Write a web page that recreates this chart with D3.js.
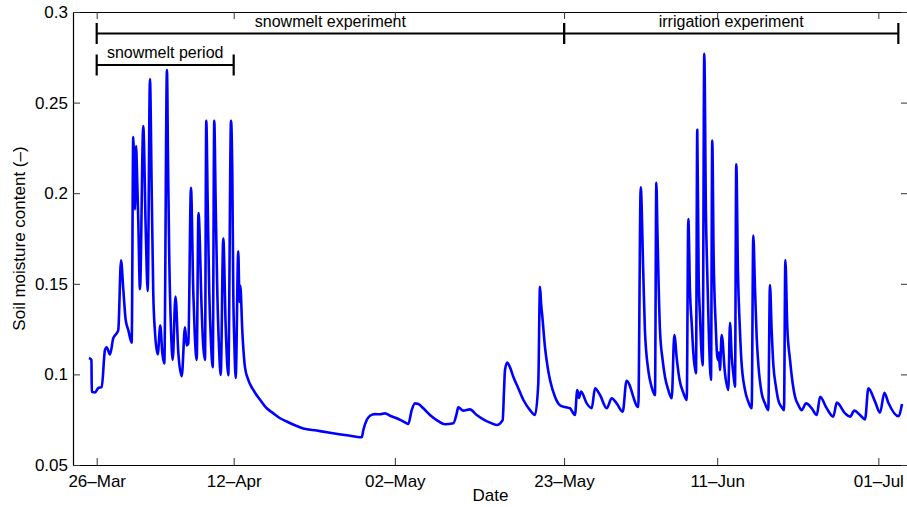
<!DOCTYPE html>
<html><head><meta charset="utf-8">
<script src="https://cdn.jsdelivr.net/npm/d3@7"></script>
<style>
html,body{margin:0;padding:0;background:#fff;}
svg{display:block;font-family:"Liberation Sans",Arial,Helvetica,sans-serif;}
</style></head>
<body>
<svg id="chart" width="907" height="507"></svg>
<script>
// Time in days since 26-Mar (00:00)
const days = [
 -0.96,-0.65,-0.61,-0.21,0.20,0.62,1.03,1.24,1.65,2.06,
 2.48,2.68,3.02,3.30,3.60,3.92,4.34,4.54,4.75,4.88,
 5.04,5.16,5.37,5.78,6.08,6.33,6.61,6.83,7.02,7.24,
 7.57,7.89,8.14,8.39,8.72,8.85,9.01,9.22,9.43,9.78,
 10.13,10.55,10.96,11.17,11.37,11.70,11.99,12.17,12.41,12.63,
 13.03,13.19,13.44,13.60,13.77,13.97,14.18,14.40,14.59,14.76,
 14.97,15.18,15.39,15.71,16.01,16.33,16.67,16.83,16.95,17.08,
 17.25,17.57,17.72,17.82,18.07,18.40,18.81,19.43,20.27,21.10,
 21.92,22.75,23.58,24.82,25.64,27.30,28.95,31.03,32.89,33.09,
 33.51,33.92,34.54,35.16,35.78,36.40,37.23,38.05,38.67,39.09,
 39.50,39.91,40.53,41.36,42.19,43.22,44.25,44.68,44.87,45.49,
 46.32,47.16,47.98,48.81,49.64,50.38,50.55,50.67,50.95,51.28,
 51.70,52.32,52.94,53.77,54.39,54.80,55.01,55.15,55.30,55.63,
 55.96,56.25,56.87,57.49,58.11,58.73,59.35,59.64,59.85,60.10,
 60.81,61.43,61.84,62.46,63.29,63.91,64.53,65.28,65.75,67.21,
 67.51,67.83,68.03,68.45,68.87,69.28,69.45,69.58,69.70,69.90,
 70.23,70.52,70.93,71.36,71.68,72.00,72.33,72.82,73.22,73.42,
 73.63,73.84,74.04,74.37,74.53,74.70,74.87,75.08,75.20,75.40,
 75.60,75.77,75.98,76.23,76.39,76.56,76.81,77.06,77.22,77.34,
 77.56,77.97,78.38,78.59,78.80,79.00,79.21,79.37,79.58,79.79,
 80.00,80.45,80.86,81.28,81.48,81.69,81.90,82.10,82.52,82.93,
 83.34,83.55,83.76,83.96,84.30,84.58,84.99,85.29,85.46,85.70,
 86.04,86.37,86.66,87.07,87.49,88.03,88.74,89.36,89.77,90.59,
 91.41,91.84,92.87,93.49,94.02,94.73,95.35,95.76,96.59,97.21,
 97.75,98.24,99.48,99.94
];
const moisture = [
 0.109,0.108,0.0905,0.090,0.0925,0.093,0.1135,0.115,0.111,0.120,
 0.1227,0.1245,0.163,0.147,0.130,0.1245,0.1175,0.231,0.191,0.226,
 0.205,0.185,0.147,0.237,0.181,0.146,0.263,0.200,0.145,0.123,
 0.111,0.127,0.112,0.106,0.268,0.218,0.163,0.125,0.108,0.143,
 0.112,0.099,0.126,0.116,0.117,0.203,0.145,0.122,0.108,0.189,
 0.1355,0.118,0.108,0.240,0.196,0.145,0.118,0.104,0.240,0.196,
 0.145,0.115,0.0997,0.175,0.126,0.0995,0.240,0.211,0.145,0.118,
 0.098,0.168,0.140,0.149,0.124,0.104,0.097,0.0914,0.086,0.0813,
 0.0785,0.0758,0.074,0.0715,0.0702,0.069,0.0678,0.0664,0.0653,0.0693,
 0.0748,0.0772,0.0781,0.078,0.0785,0.0772,0.0758,0.074,0.0727,0.0803,
 0.084,0.0837,0.0813,0.0776,0.0748,0.0725,0.073,0.0785,0.0818,0.080,
 0.0807,0.0776,0.0752,0.0734,0.0721,0.0748,0.0914,0.1024,0.1065,0.104,
 0.0987,0.0923,0.086,0.0803,0.0776,0.095,0.1484,0.139,0.132,0.115,
 0.104,0.097,0.0877,0.083,0.082,0.0813,0.0776,0.0914,0.087,0.0905,
 0.084,0.0813,0.0923,0.0886,0.0813,0.0868,0.084,0.0794,0.0965,0.082,
 0.2033,0.1558,0.1245,0.1024,0.093,0.0886,0.2058,0.18,0.156,0.1245,
 0.108,0.0987,0.0914,0.0868,0.1217,0.108,0.097,0.0896,0.0859,0.1858,
 0.145,0.128,0.112,0.1006,0.235,0.154,0.132,0.110,0.105,0.277,
 0.19,0.1558,0.12,0.097,0.229,0.165,0.128,0.108,0.112,0.1024,
 0.1217,0.1006,0.0914,0.1285,0.110,0.1006,0.0932,0.216,0.156,0.128,
 0.108,0.0914,0.085,0.0813,0.1766,0.148,0.1208,0.106,0.0896,0.084,
 0.0803,0.1493,0.1245,0.106,0.093,0.0859,0.082,0.0803,0.1631,0.126,
 0.108,0.095,0.0877,0.0831,0.0803,0.084,0.0813,0.0776,0.0877,0.0813,
 0.0767,0.0844,0.0785,0.0767,0.080,0.0776,0.0752,0.0923,0.085,0.0789,
 0.0899,0.0844,0.077,0.0837
];
const xTickDays = [0, 17, 37, 58, 77, 97];
const xTickLabels = ["26\u2013Mar","12\u2013Apr","02\u2013May","23\u2013May","11\u2013Jun","01\u2013Jul"];
const yTicks = [0.05, 0.1, 0.15, 0.2, 0.25, 0.3];
const yTickLabels = ["0.05","0.1","0.15","0.2","0.25","0.3"];
const bracketLabels = ["snowmelt experiment","irrigation experiment","snowmelt period"];
const bracketStart = [0, 58, 0];
const bracketEnd = [58, 99.48, 17];
const bracketLevel = [0, 0, 1];

const baseMs = Date.UTC(2013, 2, 26);
const toDate = d => new Date(baseMs + d * 864e5);

const L = 73, R = 908, T = 12, B = 465;
const svg = d3.select("#chart");
const x = d3.scaleUtc().domain([toDate(-2.94), toDate(100.68)]).range([L, R]);
const y = d3.scaleLinear().domain([0.05, 0.3]).range([B, T]);
const FS = 17;

svg.append("defs").append("clipPath").attr("id","clip")
  .append("rect").attr("x",L).attr("y",T).attr("width",R-L).attr("height",B-T);

// data line
const pts = days.map((d,i)=>({t:toDate(d), v:moisture[i]}));
svg.append("path").datum(pts)
  .attr("clip-path","url(#clip)")
  .attr("fill","none").attr("stroke","#0000ff").attr("stroke-width",2.6)
  .attr("stroke-linejoin","round")
  .attr("d", d3.line().curve(d3.curveMonotoneX).x(p=>x(p.t)).y(p=>y(p.v)));

const xt = xTickDays.map(toDate);
const fmtX = (d,i)=>xTickLabels[i];

const gB = svg.append("g").attr("transform",`translate(0,${B})`)
  .call(d3.axisBottom(x).tickValues(xt).tickFormat(fmtX).tickSizeInner(-7).tickSizeOuter(0).tickPadding(9.6));
const gT = svg.append("g").attr("transform",`translate(0,${T})`)
  .call(d3.axisTop(x).tickValues(xt).tickFormat("").tickSizeInner(-7).tickSizeOuter(0));
const gL = svg.append("g").attr("transform",`translate(${L},0)`)
  .call(d3.axisLeft(y).tickValues(yTicks).tickFormat((d,i)=>yTickLabels[i]).tickSizeInner(-7).tickSizeOuter(0).tickPadding(5));
const gR = svg.append("g").attr("transform",`translate(${R},0)`)
  .call(d3.axisRight(y).tickValues(yTicks).tickFormat("").tickSizeInner(-7).tickSizeOuter(0));
[gB,gT,gL,gR].forEach(g=>{
  g.select(".domain").attr("stroke","#000").attr("stroke-width",1.2);
  g.selectAll(".tick line").attr("stroke","#333").attr("stroke-width",1);
  g.selectAll("text").attr("font-size",FS).attr("fill","#000")
   .attr("font-family","'Liberation Sans',Arial,sans-serif");
});

// axis labels
svg.append("text").attr("x",(L+R)/2).attr("y",501).attr("text-anchor","middle")
  .attr("font-size",FS).text("Date");
svg.append("text").attr("transform",`translate(25,${(T+B)/2}) rotate(-90)`)
  .attr("text-anchor","middle").attr("font-size",FS).text("Soil moisture content (\u2013)");

// brackets
const lineY = [33.5, 65];
const textY = [27, 58];
bracketLabels.forEach((lab,i)=>{
  const x0 = x(toDate(bracketStart[i])), x1 = x(toDate(bracketEnd[i]));
  const ly = lineY[bracketLevel[i]];
  const g = svg.append("g").attr("stroke","#000").attr("stroke-width",2.2);
  g.append("line").attr("x1",x0).attr("x2",x1).attr("y1",ly).attr("y2",ly);
  g.append("line").attr("x1",x0).attr("x2",x0).attr("y1",ly-10.5).attr("y2",ly+10.5);
  g.append("line").attr("x1",x1).attr("x2",x1).attr("y1",ly-10.5).attr("y2",ly+10.5);
  svg.append("text").attr("x",(x0+x1)/2).attr("y",textY[bracketLevel[i]])
    .attr("text-anchor","middle").attr("font-size",16).attr("fill","#000").text(lab);
});
</script>
</body></html>
